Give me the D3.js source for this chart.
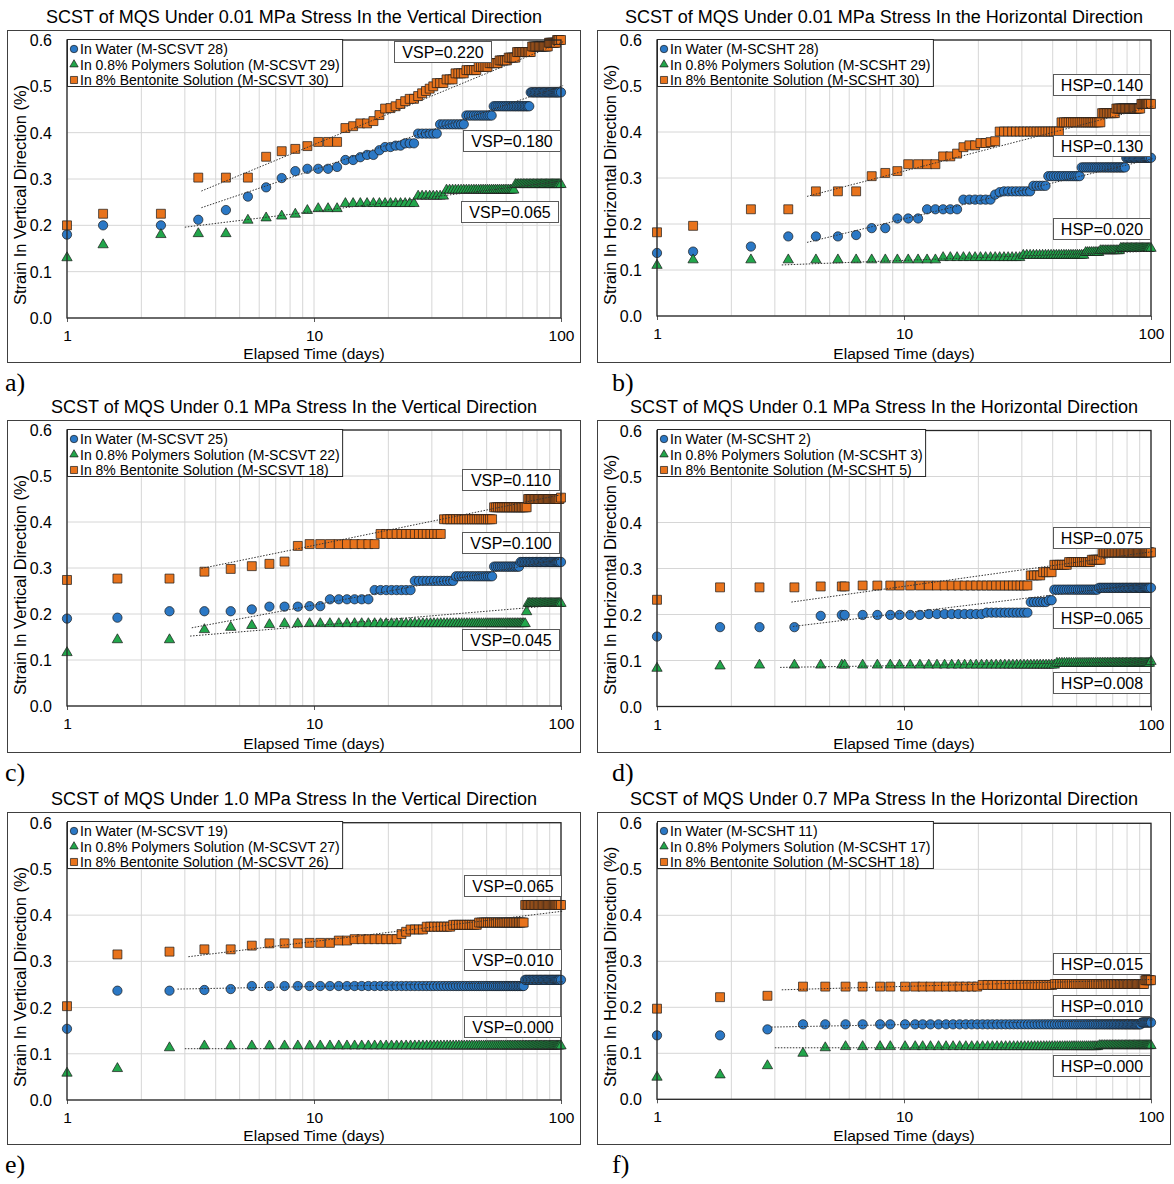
<!DOCTYPE html>
<html>
<head>
<meta charset="utf-8">
<script src="https://cdnjs.cloudflare.com/ajax/libs/d3/7.8.5/d3.min.js"></script>
<style>
  body { margin: 0; background: #fff; }
  svg text { font-family: "Liberation Sans", Arial, sans-serif; fill: #000; }
</style>
</head>
<body>
<div id="chart"></div>
<script>
// ---- text ----
const panelTitles = [
  "SCST of MQS Under 0.01 MPa Stress In the Vertical Direction",
  "SCST of MQS Under 0.01 MPa Stress In the Horizontal Direction",
  "SCST of MQS Under 0.1 MPa Stress In the Vertical Direction",
  "SCST of MQS Under 0.1 MPa Stress In the Horizontal Direction",
  "SCST of MQS Under 1.0 MPa Stress In the Vertical Direction",
  "SCST of MQS Under 0.7 MPa Stress In the Horizontal Direction"
];
const panelLetters = ["a)", "b)", "c)", "d)", "e)", "f)"];
const yTitles = ["Strain In Vertical Direction (%)", "Strain In Horizontal Direction (%)"];
const xTitle = "Elapsed Time (days)";
const seriesNames = ["In Water", "In 0.8% Polymers Solution", "In 8% Bentonite Solution"];
const specimenIds = [
  ["M-SCSVT 28", "M-SCSVT 29", "M-SCSVT 30"],
  ["M-SCSHT 28", "M-SCSHT 29", "M-SCSHT 30"],
  ["M-SCSVT 25", "M-SCSVT 22", "M-SCSVT 18"],
  ["M-SCSHT 2", "M-SCSHT 3", "M-SCSHT 5"],
  ["M-SCSVT 19", "M-SCSVT 27", "M-SCSVT 26"],
  ["M-SCSHT 11", "M-SCSHT 17", "M-SCSHT 18"]
];
const yTicks = [0, 0.1, 0.2, 0.3, 0.4, 0.5, 0.6];
const xTicks = [1, 10, 100];

// ---- measurement days ----
const daysAB = [
  1, 1.4, 2.4, 3.4, 4.4, 5.4, 6.4, 7.4, 8.4, 9.4,
  10.4, 11.4, 12.4, 13.4, 14.4, 15.4, 16.4, 17.4, 18.4, 19.4,
  20.4, 21.4, 22.4, 23.4, 24.4, 25.4, 26.4, 27.4, 28.4, 29.4,
  30.4, 31.4, 32.4, 33.4, 34.4, 35.4, 36.4, 37.4, 38.4, 39.4,
  40.4, 41.4, 42.4, 43.4, 44.4, 45.4, 46.4, 47.4, 48.4, 49.4,
  50.4, 51.4, 52.4, 53.4, 54.4, 55.4, 56.4, 57.4, 58.4, 59.4,
  60.4, 61.4, 62.4, 63.4, 64.4, 65.4, 66.4, 67.4, 68.4, 69.4,
  70.4, 71.4, 72.4, 73.4, 74.4, 75.4, 76.4, 77.4, 78.4, 79.4,
  80.4, 81.4, 82.4, 83.4, 84.4, 85.4, 86.4, 87.4, 88.4, 89.4,
  90.4, 91.4, 92.4, 93.4, 94.4, 95.4, 96.4, 97.4, 98.4, 100
];
const daysCE = [
  1, 1.6, 2.6, 3.6, 4.6, 5.6, 6.6, 7.6, 8.6, 9.6,
  10.6, 11.6, 12.6, 13.6, 14.6, 15.6, 16.6, 17.6, 18.6, 19.6,
  20.6, 21.6, 22.6, 23.6, 24.6, 25.6, 26.6, 27.6, 28.6, 29.6,
  30.6, 31.6, 32.6, 33.6, 34.6, 35.6, 36.6, 37.6, 38.6, 39.6,
  40.6, 41.6, 42.6, 43.6, 44.6, 45.6, 46.6, 47.6, 48.6, 49.6,
  50.6, 51.6, 52.6, 53.6, 54.6, 55.6, 56.6, 57.6, 58.6, 59.6,
  60.6, 61.6, 62.6, 63.6, 64.6, 65.6, 66.6, 67.6, 68.6, 69.6,
  70.6, 71.6, 72.6, 73.6, 74.6, 75.6, 76.6, 77.6, 78.6, 79.6,
  80.6, 81.6, 82.6, 83.6, 84.6, 85.6, 86.6, 87.6, 88.6, 89.6,
  90.6, 91.6, 92.6, 93.6, 94.6, 95.6, 96.6, 97.6, 98.6, 100
];
const daysD = [
  1, 1.8, 2.6, 3.6, 4.6, 5.6, 5.75, 6.8, 7.8, 8.8, 9.6,
  10.6, 11.6, 12.6, 13.6, 14.6, 15.6, 16.6, 17.6, 18.6, 19.6,
  20.6, 21.6, 22.6, 23.6, 24.6, 25.6, 26.6, 27.6, 28.6, 29.6,
  30.6, 31.6, 32.6, 33.6, 34.6, 35.6, 36.6, 37.6, 38.6, 39.6,
  40.6, 41.6, 42.6, 43.6, 44.6, 45.6, 46.6, 47.6, 48.6, 49.6,
  50.6, 51.6, 52.6, 53.6, 54.6, 55.6, 56.6, 57.6, 58.6, 59.6,
  60.6, 61.6, 62.6, 63.6, 64.6, 65.6, 66.6, 67.6, 68.6, 69.6,
  70.6, 71.6, 72.6, 73.6, 74.6, 75.6, 76.6, 77.6, 78.6, 79.6,
  80.6, 81.6, 82.6, 83.6, 84.6, 85.6, 86.6, 87.6, 88.6, 89.6,
  90.6, 91.6, 92.6, 93.6, 94.6, 95.6, 96.6, 97.6, 98.6, 100
];
const daysF = [
  1, 1.8, 2.8, 3.9, 4.8, 5.8, 6.8, 8.0, 8.8, 10.1,
  11.1, 11.9, 12.8, 13.8, 14.8, 15.8, 16.8, 17.8, 18.8, 19.8,
  20.8, 21.8, 22.8, 23.8, 24.8, 25.8, 26.8, 27.8, 28.8, 29.8,
  30.8, 31.8, 32.8, 33.8, 34.8, 35.8, 36.8, 37.8, 38.8, 39.8,
  40.8, 41.8, 42.8, 43.8, 44.8, 45.8, 46.8, 47.8, 48.8, 49.8,
  50.8, 51.8, 52.8, 53.8, 54.8, 55.8, 56.8, 57.8, 58.8, 59.8,
  60.8, 61.8, 62.8, 63.8, 64.8, 65.8, 66.8, 67.8, 68.8, 69.8,
  70.8, 71.8, 72.8, 73.8, 74.8, 75.8, 76.8, 77.8, 78.8, 79.8,
  80.8, 81.8, 82.8, 83.8, 84.8, 85.8, 86.8, 87.8, 88.8, 89.8,
  90.8, 91.8, 92.8, 93.8, 94.8, 95.8, 96.8, 97.8, 98.8, 100
];

// ---- strain readings, as [last day of reading, strain %] ----
const waterA = [[1, 0.18], [2.4, 0.20], [3.4, 0.212], [4.4, 0.233], [5.4, 0.262], [6.4, 0.282], [7.4, 0.302],
  [8.4, 0.317], [11.4, 0.322], [12.4, 0.326], [14.4, 0.341], [15.4, 0.347], [17.4, 0.352], [18.4, 0.362],
  [20.4, 0.369], [22.4, 0.372], [25.4, 0.377], [31.4, 0.398], [40.4, 0.418], [52.4, 0.437], [74.4, 0.457], [100, 0.487]];
const polyA = [[1, 0.13], [1.4, 0.158], [2.4, 0.18], [4.4, 0.182], [5.4, 0.211], [6.4, 0.216], [7.4, 0.22],
  [8.4, 0.224], [9.4, 0.232], [12.4, 0.236], [25.4, 0.247], [33.4, 0.263], [64.4, 0.276], [100, 0.288]];
const bentA = [[1, 0.20], [2.4, 0.225], [5.4, 0.303], [6.4, 0.348], [7.4, 0.36], [8.4, 0.365], [9.4, 0.371],
  [12.4, 0.38], [13.4, 0.41], [14.4, 0.414], [16.4, 0.42], [17.4, 0.425], [18.4, 0.438], [19.4, 0.452],
  [20.4, 0.453], [21.4, 0.457], [22.4, 0.462], [23.4, 0.468], [25.4, 0.473], [26.4, 0.479], [27.4, 0.485],
  [28.4, 0.49], [29.4, 0.495], [30.4, 0.50], [33.4, 0.507], [36.4, 0.515], [40.4, 0.528], [45.4, 0.535],
  [50.4, 0.542], [55.4, 0.55], [60.4, 0.556], [65.4, 0.562], [75.4, 0.574], [88.4, 0.586], [95.4, 0.594], [100, 0.60]];

const waterB = [[1, 0.137], [1.4, 0.14], [2.4, 0.151], [5.4, 0.173], [6.4, 0.176], [8.4, 0.191], [11.4, 0.212],
  [16.4, 0.232], [22.4, 0.253], [23.4, 0.264], [24.4, 0.269], [32.4, 0.271], [37.4, 0.283], [51.4, 0.304],
  [78.4, 0.323], [100, 0.344]];
const polyB = [[1, 0.11], [13.4, 0.122], [29.4, 0.127], [53.4, 0.132], [61.4, 0.138], [74.4, 0.142], [100, 0.147]];
const bentB = [[1, 0.182], [1.4, 0.196], [3.4, 0.232], [6.4, 0.271], [7.4, 0.304], [8.4, 0.311], [9.4, 0.315],
  [13.4, 0.33], [15.4, 0.347], [16.4, 0.353], [17.4, 0.367], [19.4, 0.371], [21.4, 0.376], [22.4, 0.378],
  [23.4, 0.38], [42.4, 0.401], [62.4, 0.421], [71.4, 0.441], [90.4, 0.451], [100, 0.461]];

const waterC = [[1, 0.19], [1.6, 0.192], [4.6, 0.206], [5.6, 0.21], [8.6, 0.216], [10.6, 0.217], [16.6, 0.232],
  [24.6, 0.252], [36.6, 0.272], [52.6, 0.282], [67.6, 0.303], [100, 0.313]];
const polyC = [[1, 0.116], [2.6, 0.144], [3.6, 0.166], [4.6, 0.171], [5.6, 0.175], [6.6, 0.177], [71.6, 0.179],
  [72.6, 0.205], [100, 0.223]];
const bentC = [[1, 0.274], [2.6, 0.277], [3.6, 0.292], [4.6, 0.298], [5.6, 0.304], [6.6, 0.309], [7.6, 0.314],
  [8.6, 0.348], [17.6, 0.352], [32.6, 0.374], [52.6, 0.406], [72.6, 0.432], [98.6, 0.45], [100, 0.453]];

const waterD = [[1, 0.152], [3.6, 0.1725], [4.6, 0.197], [11.6, 0.199], [20.6, 0.201], [31.6, 0.204],
  [37.6, 0.227], [39.6, 0.231], [60.6, 0.254], [100, 0.258]];
const polyD = [[1, 0.083], [1.8, 0.088], [40.6, 0.09], [98.6, 0.094], [100, 0.098]];
const bentD = [[1, 0.232], [3.6, 0.259], [5.75, 0.261], [31.6, 0.263], [35.6, 0.285], [39.6, 0.292],
  [45.6, 0.308], [56.6, 0.314], [62.6, 0.319], [100, 0.335]];

const waterE = [[1, 0.154], [2.6, 0.2365], [3.6, 0.238], [4.6, 0.24], [70.6, 0.2466], [100, 0.26]];
const polyE = [[1, 0.058], [1.6, 0.068], [2.6, 0.113], [100, 0.117]];
const bentE = [[1, 0.203], [1.6, 0.315], [2.6, 0.321], [4.6, 0.326], [5.6, 0.334], [8.6, 0.339], [11.6, 0.34],
  [13.6, 0.345], [21.6, 0.348], [22.6, 0.359], [23.6, 0.364], [27.6, 0.369], [35.6, 0.375], [45.6, 0.379],
  [70.6, 0.384], [100, 0.422]];

const waterF = [[1.8, 0.139], [2.8, 0.152], [90.8, 0.163], [100, 0.167]];
const polyF = [[1, 0.048], [1.8, 0.053], [2.8, 0.073], [3.9, 0.10], [4.8, 0.112], [60.8, 0.1145], [100, 0.1167]];
const bentF = [[1, 0.197], [1.8, 0.222], [2.8, 0.225], [19.8, 0.245], [39.8, 0.2486], [93.8, 0.2507], [100, 0.259]];

// ---- log trend lines: slope per log cycle (water, polymer, bentonite) and start point [day, strain] ----
const slopePrefix = ["VSP", "HSP", "VSP", "HSP", "VSP", "HSP"];
const swellSlopes = [
  [0.180, 0.065, 0.220],
  [0.130, 0.020, 0.140],
  [0.100, 0.045, 0.110],
  [0.065, 0.008, 0.075],
  [0.010, 0.000, 0.065],
  [0.010, 0.000, 0.015]
];
const trendStart = [
  [[3.5, 0.238], [3.0, 0.196], [3.5, 0.274]],
  [[4.05, 0.16], [3.2, 0.111], [4.05, 0.26]],
  [[3.2, 0.17], [3.15, 0.152], [3.5, 0.299]],
  [[3.55, 0.174], [3.15, 0.085], [3.5, 0.227]],
  [[2.8, 0.24], [3.0, 0.111], [3.1, 0.31]],
  [[2.9, 0.157], [3.0, 0.112], [3.2, 0.238]]
];

const panelDays = [daysAB, daysAB, daysCE, daysD, daysCE, daysF];
const panelSeries = [
  [waterA, polyA, bentA],
  [waterB, polyB, bentB],
  [waterC, polyC, bentC],
  [waterD, polyD, bentD],
  [waterE, polyE, bentE],
  [waterF, polyF, bentF]
];

// ---- layout ----
const panelOrigins = [[0, 0], [590, 0], [0, 390], [590, 390], [0, 782], [590, 782]];
const plotY = [[40, 318], [40, 316], [40, 316], [40.5, 316.5], [40.7, 318], [41.3, 317.3]];
const letterX = [5, 22, 5, 22, 5, 22];
// label boxes top-left (water, polymer, bentonite)
const boxPos = [
  [[463, 130], [461, 201], [394, 41]],
  [[463, 135], [463, 218], [463, 74]],
  [[462, 142], [462, 239], [462, 79]],
  [[463, 217], [463, 282], [463, 137]],
  [[464, 167], [464, 234], [464, 93]],
  [[463, 213], [463, 273], [463, 171]]
];
const colors = ["#2b78c5", "#22a64b", "#e8731c"];
const shapes = [d3.symbolCircle, d3.symbolTriangle, d3.symbolSquare];
const markerSize = [68, 46, 80];
const legendSize = [44, 30, 50];

function valueAt(runs, day) {
  return runs.find(r => day <= r[0] + 1e-6)[1];
}

const svg = d3.select("#chart").append("svg")
  .attr("width", 1174)
  .attr("height", 1184);

panelTitles.forEach((t, i) => drawPanel(i));

function drawPanel(i) {
  const [ox, oy] = panelOrigins[i];
  const g = svg.append("g").attr("transform", `translate(${ox},${oy})`);

  const x = d3.scaleLog().domain([1, 100]).range([67, 561]);
  const y = d3.scaleLinear().domain([0, 0.6]).range([plotY[i][1], plotY[i][0]]);

  // outer chart frame
  g.append("rect")
    .attr("x", 7.5).attr("y", 30.5)
    .attr("width", 573).attr("height", 332)
    .attr("fill", "#fff").attr("stroke", "#404040").attr("stroke-width", 1);

  // title
  g.append("text")
    .attr("x", 294).attr("y", 22.5)
    .attr("text-anchor", "middle")
    .style("font-size", "18px")
    .text(panelTitles[i]);

  // panel letter
  g.append("text")
    .attr("x", letterX[i]).attr("y", 391)
    .style("font-family", "'Liberation Serif', 'Times New Roman', serif")
    .style("font-size", "26px")
    .text(panelLetters[i]);

  // gridlines
  g.append("g").selectAll("line")
    .data(x.ticks())
    .join("line")
    .attr("x1", d => x(d)).attr("x2", d => x(d))
    .attr("y1", y(0)).attr("y2", y(0.6))
    .attr("stroke", "#d6d6d6").attr("stroke-width", 1);
  g.append("g").selectAll("line")
    .data(yTicks)
    .join("line")
    .attr("x1", x(1)).attr("x2", x(100))
    .attr("y1", d => y(d)).attr("y2", d => y(d))
    .attr("stroke", "#d6d6d6").attr("stroke-width", 1);

  // axes labels
  const yAxis = d3.axisLeft(y).tickValues(yTicks).tickFormat(d3.format(".1f")).tickSize(0).tickPadding(15);
  const ya = g.append("g").attr("transform", `translate(${x(1)},0)`).call(yAxis);
  ya.select(".domain").remove();
  ya.selectAll("text").style("font-size", "16px").attr("dy", "0.35em");

  const xAxis = d3.axisBottom(x).tickValues(xTicks).tickFormat(d3.format("d")).tickSize(4).tickPadding(8);
  const xa = g.append("g").attr("transform", `translate(0,${y(0)})`).call(xAxis);
  xa.select(".domain").remove();
  xa.selectAll("line").attr("stroke", "#595959");
  xa.selectAll("text").style("font-size", "15.5px");

  g.append("text")
    .attr("x", 314).attr("y", 359)
    .attr("text-anchor", "middle")
    .style("font-size", "15.5px")
    .text(xTitle);

  g.append("text")
    .attr("transform", "translate(20,305) rotate(-90)")
    .attr("dy", "0.35em")
    .style("font-size", "16.5px")
    .text(yTitles[i % 2]);

  // markers
  const days = panelDays[i];
  panelSeries[i].forEach((runs, s) => {
    const pts = days.map(d => ({ t: d, v: valueAt(runs, d) }));
    g.append("g").selectAll("path")
      .data(pts)
      .join("path")
      .attr("d", d3.symbol().type(shapes[s]).size(markerSize[s]))
      .attr("transform", d => `translate(${x(d.t)},${y(d.v)})`)
      .attr("fill", colors[s])
      .attr("stroke", "#1a1a1a")
      .attr("stroke-width", 0.7);
  });

  // logarithmic trend lines
  const line = d3.line().x(d => x(d[0])).y(d => y(d[1]));
  swellSlopes[i].forEach((m, s) => {
    const [t0, v0] = trendStart[i][s];
    const ends = [t0, 102].map(t => [t, v0 + m * Math.log10(t / t0)]);
    g.append("path")
      .datum(ends)
      .attr("d", line)
      .attr("fill", "none")
      .attr("stroke", "#333")
      .attr("stroke-width", 1)
      .attr("stroke-dasharray", "1.5,1.5");
  });

  // plot area border
  g.append("rect")
    .attr("x", x(1)).attr("y", y(0.6))
    .attr("width", x(100) - x(1)).attr("height", y(0) - y(0.6))
    .attr("fill", "none").attr("stroke", "#262626").attr("stroke-width", 1.3);

  // slope label boxes
  swellSlopes[i].forEach((m, s) => {
    const [bx, by] = boxPos[i][s];
    g.append("rect")
      .attr("x", bx + 0.5).attr("y", by + 0.5)
      .attr("width", 97).attr("height", 21)
      .attr("fill", "#fff").attr("stroke", "#595959").attr("stroke-width", 1);
    g.append("text")
      .attr("x", bx + 49).attr("y", by + 16.5)
      .attr("text-anchor", "middle")
      .style("font-size", "16px")
      .text(slopePrefix[i] + "=" + m.toFixed(3));
  });

  // legend
  const lg = g.append("g");
  const box = lg.append("rect")
    .attr("x", 67.5).attr("y", 39.5).attr("height", 47)
    .attr("fill", "#fff").attr("stroke", "#262626").attr("stroke-width", 1);
  let maxW = 0;
  seriesNames.forEach((name, s) => {
    const cy = 49 + s * 15.5;
    lg.append("path")
      .attr("d", d3.symbol().type(shapes[s]).size(legendSize[s]))
      .attr("transform", `translate(74,${cy})`)
      .attr("fill", colors[s]).attr("stroke", "#1a1a1a").attr("stroke-width", 0.7);
    const tx = lg.append("text")
      .attr("x", 80).attr("y", cy + 5)
      .style("font-size", "14px")
      .text(`${name} (${specimenIds[i][s]})`);
    maxW = Math.max(maxW, tx.node().getComputedTextLength());
  });
  box.attr("width", 80 + maxW + 3 - 67.5);
}
</script>
</body>
</html>
